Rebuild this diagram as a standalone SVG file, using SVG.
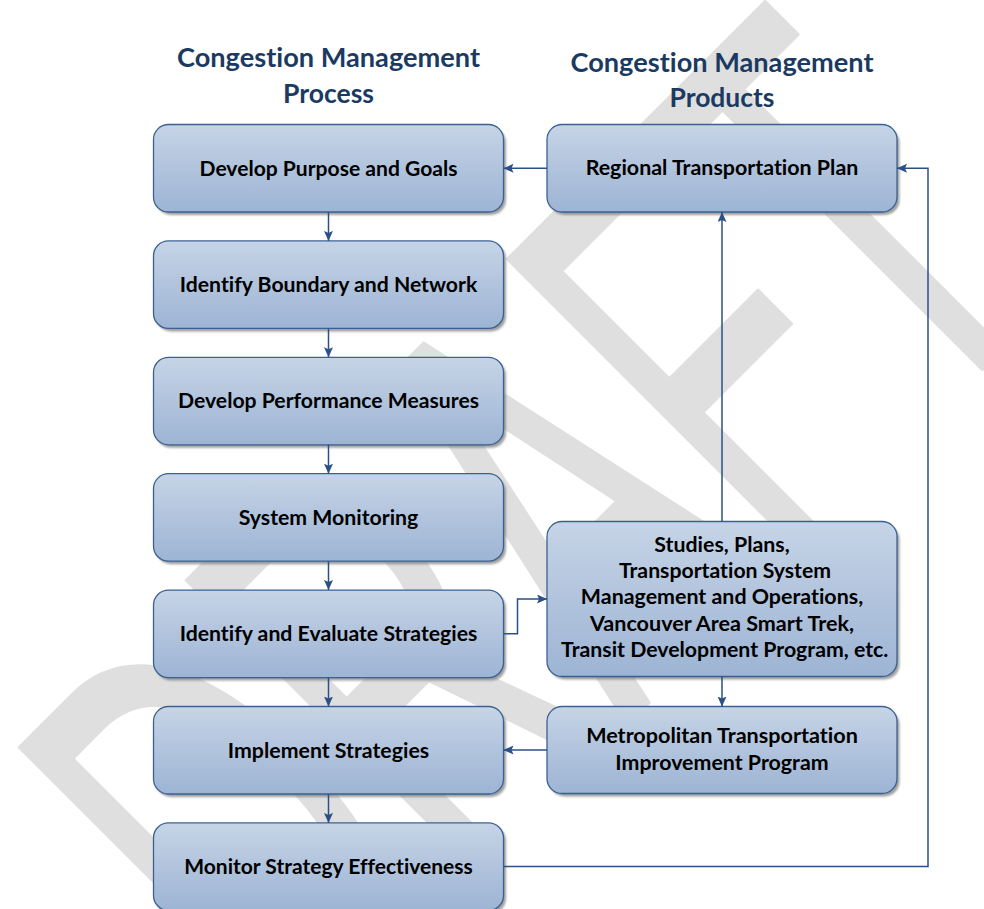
<svg xmlns="http://www.w3.org/2000/svg" width="984" height="909" viewBox="0 0 984 909">
  <defs>
    <linearGradient id="boxFill" x1="0" y1="0" x2="0" y2="1">
      <stop offset="0" stop-color="#c6d4e6"/>
      <stop offset="1" stop-color="#9db4d4"/>
    </linearGradient>
    <filter id="soft" x="-5%" y="-5%" width="110%" height="115%">
      <feGaussianBlur stdDeviation="1"/>
    </filter>
    <marker id="arrow" markerUnits="userSpaceOnUse" markerWidth="11" markerHeight="10" refX="10" refY="4.5" orient="auto">
      <path d="M0,0 L10,4.5 L0,9 L2,4.5 z" fill="#2b5087"/>
    </marker>
  </defs>
  <style>
    .wm { font-family: "Liberation Sans", Arial, sans-serif; font-size: 600px; fill: #dfdfdf; stroke: #dfdfdf; stroke-width: 4; stroke-linejoin: round; }
    .title { font-family: Lato, "Liberation Sans", sans-serif; font-weight: 700; font-size: 26px; fill: #1b3a62; text-anchor: middle; font-variant-ligatures: none; font-feature-settings: "liga" 0; }
    .shadow { fill: #7f7f7f; opacity: 0.75; filter: url(#soft); }
    .box { fill: url(#boxFill); stroke: #3b6194; stroke-width: 1.3; }
    .label { font-family: Lato, "Liberation Sans", sans-serif; font-weight: 700; font-size: 20.5px; fill: #000; text-anchor: middle; font-variant-ligatures: none; font-feature-settings: "liga" 0; }
    .conn { fill: none; stroke: #2b5087; stroke-width: 1.5; }
  </style>

  <rect width="984" height="909" fill="#ffffff"/>

  <!-- watermark -->
  <text class="wm" transform="translate(525.6,521.4) rotate(-45) scale(0.545,1)" x="0" y="215" text-anchor="middle">DRAFT</text>

  <!-- column headings -->
  <g id="heading-process">
    <text class="title" x="328.5" y="67.3" textLength="303" lengthAdjust="spacingAndGlyphs">Congestion Management</text>
    <text class="title" x="328.5" y="102.7" textLength="91" lengthAdjust="spacingAndGlyphs">Process</text>
  </g>
  <g id="heading-products">
    <text class="title" x="722" y="71.7" textLength="303" lengthAdjust="spacingAndGlyphs">Congestion Management</text>
    <text class="title" x="722" y="106.7" textLength="105" lengthAdjust="spacingAndGlyphs">Products</text>
  </g>

  <!-- process column -->
  <g id="develop-purpose">
    <rect class="shadow" x="156" y="127.5" width="350" height="87.5" rx="15"/>
    <rect class="box" x="153.5" y="124.5" width="350" height="87.5" rx="15"/>
    <text class="label" x="328.5" y="175.5" textLength="258" lengthAdjust="spacingAndGlyphs">Develop Purpose and Goals</text>
  </g>
  <g id="identify-boundary">
    <rect class="shadow" x="156" y="243.9" width="350" height="87.5" rx="15"/>
    <rect class="box" x="153.5" y="240.9" width="350" height="87.5" rx="15"/>
    <text class="label" x="328.5" y="291.9" textLength="297.5" lengthAdjust="spacingAndGlyphs">Identify Boundary and Network</text>
  </g>
  <g id="performance-measures">
    <rect class="shadow" x="156" y="360.3" width="350" height="87.5" rx="15"/>
    <rect class="box" x="153.5" y="357.3" width="350" height="87.5" rx="15"/>
    <text class="label" x="328.5" y="408.3" textLength="301" lengthAdjust="spacingAndGlyphs">Develop Performance Measures</text>
  </g>
  <g id="system-monitoring">
    <rect class="shadow" x="156" y="476.7" width="350" height="87.5" rx="15"/>
    <rect class="box" x="153.5" y="473.7" width="350" height="87.5" rx="15"/>
    <text class="label" x="328.5" y="524.7" textLength="179.5" lengthAdjust="spacingAndGlyphs">System Monitoring</text>
  </g>
  <g id="evaluate-strategies">
    <rect class="shadow" x="156" y="593.1" width="350" height="87.5" rx="15"/>
    <rect class="box" x="153.5" y="590.1" width="350" height="87.5" rx="15"/>
    <text class="label" x="328.5" y="641.1" textLength="297.7" lengthAdjust="spacingAndGlyphs">Identify and Evaluate Strategies</text>
  </g>
  <g id="implement-strategies">
    <rect class="shadow" x="156" y="709.5" width="350" height="87.5" rx="15"/>
    <rect class="box" x="153.5" y="706.5" width="350" height="87.5" rx="15"/>
    <text class="label" x="328.5" y="757.5" textLength="201.3" lengthAdjust="spacingAndGlyphs">Implement Strategies</text>
  </g>
  <g id="monitor-effectiveness">
    <rect class="shadow" x="156" y="825.9" width="350" height="87.5" rx="15"/>
    <rect class="box" x="153.5" y="822.9" width="350" height="87.5" rx="15"/>
    <text class="label" x="328.5" y="873.9" textLength="288.7" lengthAdjust="spacingAndGlyphs">Monitor Strategy Effectiveness</text>
  </g>

  <!-- products column -->
  <g id="regional-plan">
    <rect class="shadow" x="549.5" y="127.5" width="350" height="87.5" rx="15"/>
    <rect class="box" x="547" y="124.5" width="350" height="87.5" rx="15"/>
    <text class="label" x="722" y="175" textLength="272.7" lengthAdjust="spacingAndGlyphs">Regional Transportation Plan</text>
  </g>
  <g id="studies-plans">
    <rect class="shadow" x="549.5" y="524.5" width="350" height="155" rx="15"/>
    <rect class="box" x="547" y="521.5" width="350" height="155" rx="15"/>
    <text class="label" x="722" y="552" textLength="135.3" lengthAdjust="spacingAndGlyphs">Studies, Plans,</text>
    <text class="label" x="725" y="578.2" textLength="212" lengthAdjust="spacingAndGlyphs">Transportation System</text>
    <text class="label" x="722" y="604.4" textLength="282.3" lengthAdjust="spacingAndGlyphs">Management and Operations,</text>
    <text class="label" x="722" y="630.6" textLength="264" lengthAdjust="spacingAndGlyphs">Vancouver Area Smart Trek,</text>
    <text class="label" x="724.7" y="656.8" textLength="327.3" lengthAdjust="spacingAndGlyphs">Transit Development Program, etc.</text>
  </g>
  <g id="metropolitan-tip">
    <rect class="shadow" x="549.5" y="709.5" width="350" height="87" rx="15"/>
    <rect class="box" x="547" y="706.5" width="350" height="87" rx="15"/>
    <text class="label" x="722" y="743.3" textLength="271.7" lengthAdjust="spacingAndGlyphs">Metropolitan Transportation</text>
    <text class="label" x="722" y="770" textLength="213.3" lengthAdjust="spacingAndGlyphs">Improvement Program</text>
  </g>

  <!-- connectors -->
  <g id="connectors" class="conn" marker-end="url(#arrow)">
    <path d="M328.5,212 V240.9"/>
    <path d="M328.5,328.4 V357.3"/>
    <path d="M328.5,444.8 V473.7"/>
    <path d="M328.5,561.2 V590.1"/>
    <path d="M328.5,677.6 V706.5"/>
    <path d="M328.5,794 V822.9"/>
    <path d="M547,168.3 H503.5"/>
    <path d="M722,521.5 V212"/>
    <path d="M503.5,633.8 H517.5 V599 H547"/>
    <path d="M722,676.5 V706.5"/>
    <path d="M547,750 H503.5"/>
    <path d="M503.5,866.5 H928 V168.3 H897"/>
  </g>
</svg>
